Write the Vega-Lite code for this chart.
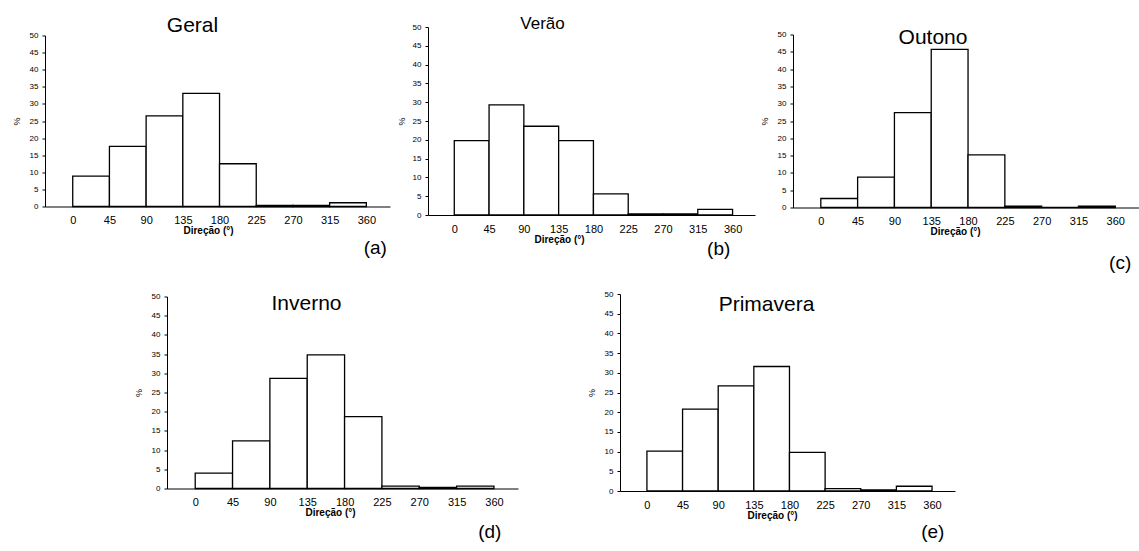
{
  "$schema": "https://vega.github.io/schema/vega-lite/v6.json",
  "padding": {"left": 12, "top": 14, "right": 0, "bottom": 0},
  "background": "white",
  "config": {
    "font": "Liberation Sans",
    "view": {"stroke": null},
    "axis": {"grid": false, "domainColor": "black", "tickColor": "black", "labelColor": "black", "titleColor": "black", "labelFont": "Liberation Sans", "titleFont": "Liberation Sans", "labelOverlap": false, "labelFlush": false},
    "title": {"font": "Liberation Sans", "fontWeight": "normal", "fontSize": 21, "color": "black", "frame": "group", "anchor": "middle"}
  },
  "datasets": {
    "hist": [
      {"panel": "Geral", "start": 0, "end": 45, "pct": 8.9},
      {"panel": "Geral", "start": 45, "end": 90, "pct": 17.6},
      {"panel": "Geral", "start": 90, "end": 135, "pct": 26.5},
      {"panel": "Geral", "start": 135, "end": 180, "pct": 33.1},
      {"panel": "Geral", "start": 180, "end": 225, "pct": 12.5},
      {"panel": "Geral", "start": 225, "end": 270, "pct": 0.3},
      {"panel": "Geral", "start": 270, "end": 315, "pct": 0.3},
      {"panel": "Geral", "start": 315, "end": 360, "pct": 1.1},
      {"panel": "Verão", "start": 0, "end": 45, "pct": 19.8},
      {"panel": "Verão", "start": 45, "end": 90, "pct": 29.3},
      {"panel": "Verão", "start": 90, "end": 135, "pct": 23.6},
      {"panel": "Verão", "start": 135, "end": 180, "pct": 19.8},
      {"panel": "Verão", "start": 180, "end": 225, "pct": 5.6},
      {"panel": "Verão", "start": 225, "end": 270, "pct": 0.3},
      {"panel": "Verão", "start": 270, "end": 315, "pct": 0.3},
      {"panel": "Verão", "start": 315, "end": 360, "pct": 1.5},
      {"panel": "Outono", "start": 0, "end": 45, "pct": 2.6},
      {"panel": "Outono", "start": 45, "end": 90, "pct": 8.8},
      {"panel": "Outono", "start": 90, "end": 135, "pct": 27.4},
      {"panel": "Outono", "start": 135, "end": 180, "pct": 45.7},
      {"panel": "Outono", "start": 180, "end": 225, "pct": 15.2},
      {"panel": "Outono", "start": 225, "end": 270, "pct": 0.4},
      {"panel": "Outono", "start": 270, "end": 315, "pct": 0},
      {"panel": "Outono", "start": 315, "end": 360, "pct": 0.4},
      {"panel": "Inverno", "start": 0, "end": 45, "pct": 4.0},
      {"panel": "Inverno", "start": 45, "end": 90, "pct": 12.4},
      {"panel": "Inverno", "start": 90, "end": 135, "pct": 28.7},
      {"panel": "Inverno", "start": 135, "end": 180, "pct": 34.8},
      {"panel": "Inverno", "start": 180, "end": 225, "pct": 18.7},
      {"panel": "Inverno", "start": 225, "end": 270, "pct": 0.6},
      {"panel": "Inverno", "start": 270, "end": 315, "pct": 0.3},
      {"panel": "Inverno", "start": 315, "end": 360, "pct": 0.6},
      {"panel": "Primavera", "start": 0, "end": 45, "pct": 10.1},
      {"panel": "Primavera", "start": 45, "end": 90, "pct": 20.8},
      {"panel": "Primavera", "start": 90, "end": 135, "pct": 26.7},
      {"panel": "Primavera", "start": 135, "end": 180, "pct": 31.6},
      {"panel": "Primavera", "start": 180, "end": 225, "pct": 9.8},
      {"panel": "Primavera", "start": 225, "end": 270, "pct": 0.6},
      {"panel": "Primavera", "start": 270, "end": 315, "pct": 0.3},
      {"panel": "Primavera", "start": 315, "end": 360, "pct": 1.2}
    ]
  },
  "spacing": 17,
  "vconcat": [
    {
      "hconcat": [
        {
          "width": 345, "height": 171,
          "title": {"text": "Geral", "dx": -25, "offset": -4},
          "layer": [
            {
              "data": {"name": "hist"},
              "transform": [{"filter": "datum.panel == 'Geral'"}],
              "mark": {"type": "bar", "fill": "white", "stroke": "black", "strokeWidth": 1.3},
              "encoding": {
                "x": {"field": "start", "type": "quantitative", "scale": {"domain": [-34, 389], "nice": false, "zero": false},
                  "axis": {"values": [0, 45, 90, 135, 180, 225, 270, 315, 360], "ticks": false, "labelFontSize": 11, "labelPadding": 8, "title": "Direção (°)", "titleFontSize": 10, "titleFontWeight": "bold", "titlePadding": 0, "titleX": 163}},
                "x2": {"field": "end"},
                "y": {"field": "pct", "type": "quantitative", "scale": {"domain": [0, 50], "nice": false},
                  "axis": {"values": [0, 5, 10, 15, 20, 25, 30, 35, 40, 45, 50], "tickSize": 3, "labelFontSize": 8, "labelPadding": 4, "title": "%", "titleFontSize": 9, "titleFontWeight": "normal", "titlePadding": 8}},
                "y2": {"datum": 0}
              }
            },
            {
              "data": {"values": [{"tag": "(a)"}]},
              "mark": {"type": "text", "fontSize": 19, "font": "Liberation Sans", "color": "black"},
              "encoding": {
                "x": {"datum": 371, "type": "quantitative", "axis": {"values": [0, 45, 90, 135, 180, 225, 270, 315, 360], "ticks": false, "labelFontSize": 11, "labelPadding": 8, "title": "Direção (°)", "titleFontSize": 10, "titleFontWeight": "bold", "titlePadding": 0, "titleX": 163}},
                "y": {"datum": -12, "type": "quantitative", "axis": {"values": [0, 5, 10, 15, 20, 25, 30, 35, 40, 45, 50], "tickSize": 3, "labelFontSize": 8, "labelPadding": 4, "title": "%", "titleFontSize": 9, "titleFontWeight": "normal", "titlePadding": 8}},
                "text": {"field": "tag"}
              }
            }
          ]
        },
        {
          "width": 327, "height": 188,
          "title": {"text": "Verão", "dx": -49, "offset": -10, "fontSize": 17},
          "layer": [
            {
              "data": {"name": "hist"},
              "transform": [{"filter": "datum.panel == 'Verão'"}],
              "mark": {"type": "bar", "fill": "white", "stroke": "black", "strokeWidth": 1.3},
              "encoding": {
                "x": {"field": "start", "type": "quantitative", "scale": {"domain": [-34, 389], "nice": false, "zero": false},
                  "axis": {"values": [0, 45, 90, 135, 180, 225, 270, 315, 360], "ticks": false, "labelFontSize": 11, "labelPadding": 8, "title": "Direção (°)", "titleFontSize": 10, "titleFontWeight": "bold", "titlePadding": 0, "titleX": 131}},
                "x2": {"field": "end"},
                "y": {"field": "pct", "type": "quantitative", "scale": {"domain": [0, 50], "nice": false},
                  "axis": {"values": [0, 5, 10, 15, 20, 25, 30, 35, 40, 45, 50], "tickSize": 3, "labelFontSize": 8, "labelPadding": 4, "title": "%", "titleFontSize": 9, "titleFontWeight": "normal", "titlePadding": 6}},
                "y2": {"datum": 0}
              }
            },
            {
              "data": {"values": [{"tag": "(b)"}]},
              "mark": {"type": "text", "fontSize": 19, "font": "Liberation Sans", "color": "black"},
              "encoding": {
                "x": {"datum": 342, "type": "quantitative", "axis": {"values": [0, 45, 90, 135, 180, 225, 270, 315, 360], "ticks": false, "labelFontSize": 11, "labelPadding": 8, "title": "Direção (°)", "titleFontSize": 10, "titleFontWeight": "bold", "titlePadding": 0, "titleX": 131}},
                "y": {"datum": -9, "type": "quantitative", "axis": {"values": [0, 5, 10, 15, 20, 25, 30, 35, 40, 45, 50], "tickSize": 3, "labelFontSize": 8, "labelPadding": 4, "title": "%", "titleFontSize": 9, "titleFontWeight": "normal", "titlePadding": 6}},
                "text": {"field": "tag"}
              }
            }
          ]
        },
        {
          "width": 346, "height": 173,
          "title": {"text": "Outono", "dx": -33, "offset": -17},
          "layer": [
            {
              "data": {"name": "hist"},
              "transform": [{"filter": "datum.panel == 'Outono'"}],
              "mark": {"type": "bar", "fill": "white", "stroke": "black", "strokeWidth": 1.3},
              "encoding": {
                "x": {"field": "start", "type": "quantitative", "scale": {"domain": [-34, 389], "nice": false, "zero": false},
                  "axis": {"values": [0, 45, 90, 135, 180, 225, 270, 315, 360], "ticks": false, "labelFontSize": 11, "labelPadding": 8, "title": "Direção (°)", "titleFontSize": 10, "titleFontWeight": "bold", "titlePadding": 0, "titleX": 162}},
                "x2": {"field": "end"},
                "y": {"field": "pct", "type": "quantitative", "scale": {"domain": [0, 50], "nice": false},
                  "axis": {"values": [0, 5, 10, 15, 20, 25, 30, 35, 40, 45, 50], "tickSize": 3, "labelFontSize": 8, "labelPadding": 4, "title": "%", "titleFontSize": 9, "titleFontWeight": "normal", "titlePadding": 8}},
                "y2": {"datum": 0}
              }
            },
            {
              "data": {"values": [{"tag": "(c)"}]},
              "mark": {"type": "text", "fontSize": 19, "font": "Liberation Sans", "color": "black"},
              "encoding": {
                "x": {"datum": 366, "type": "quantitative", "axis": {"values": [0, 45, 90, 135, 180, 225, 270, 315, 360], "ticks": false, "labelFontSize": 11, "labelPadding": 8, "title": "Direção (°)", "titleFontSize": 10, "titleFontWeight": "bold", "titlePadding": 0, "titleX": 162}},
                "y": {"datum": -16, "type": "quantitative", "axis": {"values": [0, 5, 10, 15, 20, 25, 30, 35, 40, 45, 50], "tickSize": 3, "labelFontSize": 8, "labelPadding": 4, "title": "%", "titleFontSize": 9, "titleFontWeight": "normal", "titlePadding": 8}},
                "text": {"field": "tag"}
              }
            }
          ]
        }
      ],
      "spacing": 38,
      "bounds": "flush",
      "center": true
    },
    {
      "hconcat": [
        {
          "width": 20, "height": 10,
          "data": {"values": []},
          "mark": "point",
          "encoding": {}
        },
        {
          "width": 351, "height": 192,
          "title": {"text": "Inverno", "dx": -36, "offset": -21},
          "layer": [
            {
              "data": {"name": "hist"},
              "transform": [{"filter": "datum.panel == 'Inverno'"}],
              "mark": {"type": "bar", "fill": "white", "stroke": "black", "strokeWidth": 1.3},
              "encoding": {
                "x": {"field": "start", "type": "quantitative", "scale": {"domain": [-34, 389], "nice": false, "zero": false},
                  "axis": {"values": [0, 45, 90, 135, 180, 225, 270, 315, 360], "ticks": false, "labelFontSize": 11, "labelPadding": 8, "title": "Direção (°)", "titleFontSize": 10, "titleFontWeight": "bold", "titlePadding": 0, "titleX": 163}},
                "x2": {"field": "end"},
                "y": {"field": "pct", "type": "quantitative", "scale": {"domain": [0, 50], "nice": false},
                  "axis": {"values": [0, 5, 10, 15, 20, 25, 30, 35, 40, 45, 50], "tickSize": 3, "labelFontSize": 8, "labelPadding": 4, "title": "%", "titleFontSize": 9, "titleFontWeight": "normal", "titlePadding": 8}},
                "y2": {"datum": 0}
              }
            },
            {
              "data": {"values": [{"tag": "(d)"}]},
              "mark": {"type": "text", "fontSize": 19, "font": "Liberation Sans", "color": "black"},
              "encoding": {
                "x": {"datum": 355, "type": "quantitative", "axis": {"values": [0, 45, 90, 135, 180, 225, 270, 315, 360], "ticks": false, "labelFontSize": 11, "labelPadding": 8, "title": "Direção (°)", "titleFontSize": 10, "titleFontWeight": "bold", "titlePadding": 0, "titleX": 163}},
                "y": {"datum": -11.4, "type": "quantitative", "axis": {"values": [0, 5, 10, 15, 20, 25, 30, 35, 40, 45, 50], "tickSize": 3, "labelFontSize": 8, "labelPadding": 4, "title": "%", "titleFontSize": 9, "titleFontWeight": "normal", "titlePadding": 8}},
                "text": {"field": "tag"}
              }
            }
          ]
        },
        {
          "width": 335, "height": 197,
          "title": {"text": "Primavera", "dx": -21, "offset": -25},
          "layer": [
            {
              "data": {"name": "hist"},
              "transform": [{"filter": "datum.panel == 'Primavera'"}],
              "mark": {"type": "bar", "fill": "white", "stroke": "black", "strokeWidth": 1.3},
              "encoding": {
                "x": {"field": "start", "type": "quantitative", "scale": {"domain": [-34, 389], "nice": false, "zero": false},
                  "axis": {"values": [0, 45, 90, 135, 180, 225, 270, 315, 360], "ticks": false, "labelFontSize": 11, "labelPadding": 8, "title": "Direção (°)", "titleFontSize": 10, "titleFontWeight": "bold", "titlePadding": 0, "titleX": 152}},
                "x2": {"field": "end"},
                "y": {"field": "pct", "type": "quantitative", "scale": {"domain": [0, 50], "nice": false},
                  "axis": {"values": [0, 5, 10, 15, 20, 25, 30, 35, 40, 45, 50], "tickSize": 3, "labelFontSize": 8, "labelPadding": 4, "title": "%", "titleFontSize": 9, "titleFontWeight": "normal", "titlePadding": 8}},
                "y2": {"datum": 0}
              }
            },
            {
              "data": {"values": [{"tag": "(e)"}]},
              "mark": {"type": "text", "fontSize": 19, "font": "Liberation Sans", "color": "black"},
              "encoding": {
                "x": {"datum": 361, "type": "quantitative", "axis": {"values": [0, 45, 90, 135, 180, 225, 270, 315, 360], "ticks": false, "labelFontSize": 11, "labelPadding": 8, "title": "Direção (°)", "titleFontSize": 10, "titleFontWeight": "bold", "titlePadding": 0, "titleX": 152}},
                "y": {"datum": -10.4, "type": "quantitative", "axis": {"values": [0, 5, 10, 15, 20, 25, 30, 35, 40, 45, 50], "tickSize": 3, "labelFontSize": 8, "labelPadding": 4, "title": "%", "titleFontSize": 9, "titleFontWeight": "normal", "titlePadding": 8}},
                "text": {"field": "tag"}
              }
            }
          ]
        }
      ],
      "spacing": 102,
      "bounds": "flush",
      "center": true
    }
  ]
}
